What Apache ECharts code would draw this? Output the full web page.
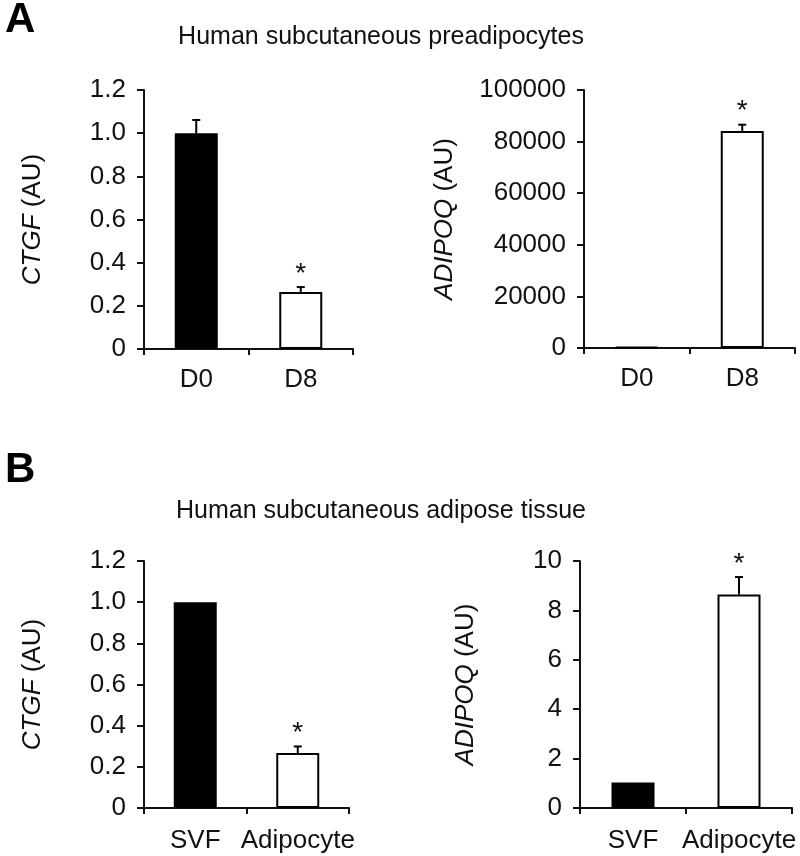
<!DOCTYPE html>
<html><head><meta charset="utf-8">
<script src="https://cdn.jsdelivr.net/npm/echarts@6/dist/echarts.min.js"></script>
<style>html,body{margin:0;padding:0;background:#fff}#c{width:800px;height:856px}</style>
</head><body><div id="c"></div>
<script>
// ---- data ----
const catsA = ['D0', 'D8'];
const catsB = ['SVF', 'Adipocyte'];
const ctgfA = [1.0, 0.264];
const ctgfAErr = [0.061, 0.023];
const adipoqA = [400, 84100];
const adipoqAErr = [0, 2450];
const ctgfB = [1.0, 0.267];
const ctgfBErr = [0, 0.032];
const adipoqB = [1.03, 8.64];
const adipoqBErr = [0, 0.71];
const sigA1 = ['', '*'];
const sigA2 = ['', '*'];
const sigB1 = ['', '*'];
const sigB2 = ['', '*'];
const ticksCtgf = ['0', '0.2', '0.4', '0.6', '0.8', '1.0', '1.2'];
const ticksAdipoqA = ['0', '20000', '40000', '60000', '80000', '100000'];
const ticksAdipoqB = ['0', '2', '4', '6', '8', '10'];
const titleA = 'Human subcutaneous preadipocytes';
const titleB = 'Human subcutaneous adipose tissue';

const FONT = '"Liberation Sans", Arial, Helvetica, sans-serif';
const INK = '#111';
const chart = echarts.init(document.getElementById('c'), null, {renderer: 'canvas'});

const grids = [
  {left: 144, top: 90, width: 209, height: 259},
  {left: 584, top: 90, width: 211, height: 258},
  {left: 144, top: 561, width: 205, height: 247},
  {left: 580, top: 561, width: 212, height: 247}
];

function xAxis(i, cats, margin) {
  return {
    type: 'category', gridIndex: i, data: cats, boundaryGap: true,
    axisLine: {lineStyle: {color: INK, width: 2}},
    axisTick: {show: true, length: 6, lineStyle: {color: INK, width: 2}},
    axisLabel: {color: INK, fontSize: 26, fontFamily: FONT, margin: margin, interval: 0, hideOverlap: false},
    splitLine: {show: false}
  };
}
function yAxis(i, max, interval, ticks, gene, gap) {
  return {
    type: 'value', gridIndex: i, min: 0, max: max, interval: interval,
    name: '{i|' + gene + '} (AU)', nameLocation: 'middle', nameGap: gap, nameRotate: 90,
    nameTextStyle: {color: INK, fontSize: 26, fontFamily: FONT,
      rich: {i: {fontStyle: 'italic', color: INK, fontSize: 26, fontFamily: FONT}}},
    axisLine: {show: true, lineStyle: {color: INK, width: 2}},
    axisTick: {show: true, length: 7, lineStyle: {color: INK, width: 2}},
    axisLabel: {color: INK, fontSize: 26, fontFamily: FONT, margin: 18,
      formatter: v => ticks[Math.round(v / interval)]},
    splitLine: {show: false}
  };
}
function bars(i, vals) {
  return {
    type: 'bar', xAxisIndex: i, yAxisIndex: i, barWidth: 43,
    data: vals.map((v, k) => ({
      value: v,
      itemStyle: k === 0 ? {color: '#000', borderColor: '#000', borderWidth: 2}
                         : {color: '#fff', borderColor: '#000', borderWidth: 2}
    })),
    silent: true
  };
}
function errs(i, vals, err, sig) {
  return {
    type: 'custom', xAxisIndex: i, yAxisIndex: i, z: 5, silent: true,
    data: vals.map((v, k) => [k, v, err[k]]),
    renderItem: function (params, api) {
      const k = api.value(0), m = api.value(1), e = api.value(2);
      const s = sig[k];
      const p0 = api.coord([k, m]);
      const p1 = api.coord([k, m + e]);
      const children = [];
      if (e > 0) {
        children.push({type: 'line', shape: {x1: p0[0], y1: p0[1], x2: p1[0], y2: p1[1]},
          style: {stroke: '#000', lineWidth: 2}});
        children.push({type: 'line', shape: {x1: p1[0] - 4, y1: p1[1], x2: p1[0] + 4, y2: p1[1]},
          style: {stroke: '#000', lineWidth: 2}});
      }
      if (s) {
        children.push({type: 'text', x: p1[0], y: p1[1] + 1,
          style: {text: s, fill: INK, fontSize: 28, fontFamily: FONT, align: 'center', verticalAlign: 'bottom'}});
      }
      return {type: 'group', children: children};
    }
  };
}

chart.setOption({
  backgroundColor: '#fff',
  animation: false,
  title: [
    {text: 'A', left: 0, top: -6, textStyle: {fontSize: 42, fontWeight: 'bold', color: '#000', fontFamily: FONT}},
    {text: 'B', left: 0, top: 444, textStyle: {fontSize: 42, fontWeight: 'bold', color: '#000', fontFamily: FONT}},
    {text: titleA, left: 376, top: 20, textAlign: 'center', textStyle: {fontSize: 25, fontWeight: 'normal', color: INK, fontFamily: FONT}},
    {text: titleB, left: 376, top: 494, textAlign: 'center', textStyle: {fontSize: 25, fontWeight: 'normal', color: INK, fontFamily: FONT}}
  ],
  grid: grids,
  xAxis: [xAxis(0, catsA, 18), xAxis(1, catsA, 18), xAxis(2, catsB, 20), xAxis(3, catsB, 20)],
  yAxis: [
    yAxis(0, 1.2, 0.2, ticksCtgf, 'CTGF', 98),
    yAxis(1, 100000, 20000, ticksAdipoqA, 'ADIPOQ', 126),
    yAxis(2, 1.2, 0.2, ticksCtgf, 'CTGF', 98),
    yAxis(3, 10, 2, ticksAdipoqB, 'ADIPOQ', 101)
  ],
  series: [
    bars(0, ctgfA), errs(0, ctgfA, ctgfAErr, sigA1),
    bars(1, adipoqA), errs(1, adipoqA, adipoqAErr, sigA2),
    bars(2, ctgfB), errs(2, ctgfB, ctgfBErr, sigB1),
    bars(3, adipoqB), errs(3, adipoqB, adipoqBErr, sigB2)
  ]
});
</script></body></html>
